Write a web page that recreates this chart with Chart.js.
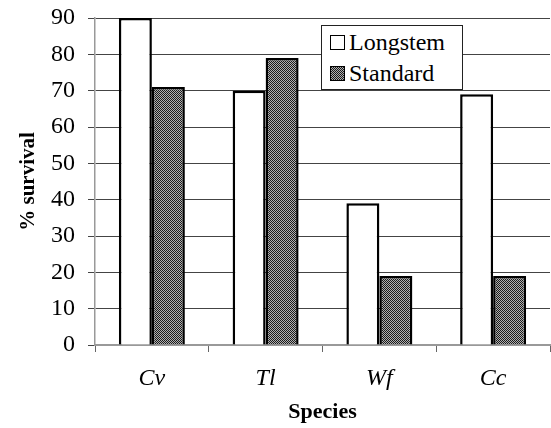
<!DOCTYPE html>
<html>
<head>
<meta charset="utf-8">
<script src="https://cdn.jsdelivr.net/npm/chart.js@4"></script>
<style>
html,body{margin:0;padding:0;background:#fff}
#wrap{position:relative;width:551px;height:428px}
#legend{position:absolute;left:321px;top:25px;width:142px;height:65px;border:1.5px solid #222;background:#fff;
font-family:"Liberation Serif",serif;font-size:24px;color:#000;box-sizing:border-box;padding:1px 0 0 8px;white-space:nowrap}
#legend div{height:31px;line-height:31px}
#legend span{display:inline-block;width:13px;height:13px;border:1.5px solid #000;margin-right:4px;vertical-align:0px}
</style>
</head>
<body>
<div id="wrap">
<canvas id="c" width="551" height="428"></canvas>
<div id="legend">
<div><span id="lg1" style="background:#fff"></span>Longstem</div>
<div><span id="lg2"></span>Standard</div>
</div>
</div>
<script>
const species=["Cv","Tl","Wf","Cc"]
const longstem=[90,70,39,69]
const standard=[71,79,19,19]
const yTicks=[0,10,20,30,40,50,60,70,80,90]

function makePattern(){
const p=document.createElement("canvas")
p.width=4
p.height=4
const g=p.getContext("2d")
g.fillStyle="#b0b0b0"
g.fillRect(0,0,4,4)
g.fillStyle="#1a1a1a"
for(let y=0;y<4;y++){
for(let x=0;x<4;x++){
if((x+y)%2===0) g.fillRect(x,y,1,1)
}
}
return p
}

const patCanvas=makePattern()
const ctx=document.getElementById("c").getContext("2d")
const pattern=ctx.createPattern(patCanvas,"repeat")
document.getElementById("lg2").style.background="url("+patCanvas.toDataURL()+")"

new Chart(ctx,{
type:"bar",
data:{
labels:species,
datasets:[
{label:"Longstem",data:longstem,backgroundColor:"#fff",borderColor:"#000",borderWidth:2.5},
{label:"Standard",data:standard,backgroundColor:pattern,borderColor:"#000",borderWidth:2.5}
]
},
options:{
responsive:false,
animation:false,
events:[],
layout:{padding:{left:0,right:1,top:0,bottom:0}},
plugins:{legend:{display:false},tooltip:{enabled:false}},
datasets:{bar:{categoryPercentage:0.58,barPercentage:1}},
scales:{
x:{
offset:true,
afterFit:s=>{s.height=83},
grid:{offset:true,drawOnChartArea:false,drawTicks:true,tickLength:7,color:"#666"},
border:{display:true,color:"#999",width:2},
ticks:{color:"#000",padding:12,font:{family:"Liberation Serif",size:24,style:"italic"}},
title:{display:true,text:"Species",color:"#000",padding:{top:0,bottom:2},font:{family:"Liberation Serif",size:22,weight:"bold"}}
},
y:{
min:0,
max:90,
afterBuildTicks:s=>{s.ticks=yTicks.map(v=>({value:v}))},
afterFit:s=>{s.width=95;s.paddingTop=18},
grid:{color:"#444",lineWidth:1,tickLength:7},
border:{display:true,color:"#999",width:1.5},
ticks:{color:"#000",padding:13,font:{family:"Liberation Serif",size:24}},
title:{display:true,text:"% survival",color:"#000",padding:{top:16,bottom:0},font:{family:"Liberation Serif",size:21,weight:"bold"}}
}
}
}
})
</script>
</body>
</html>
